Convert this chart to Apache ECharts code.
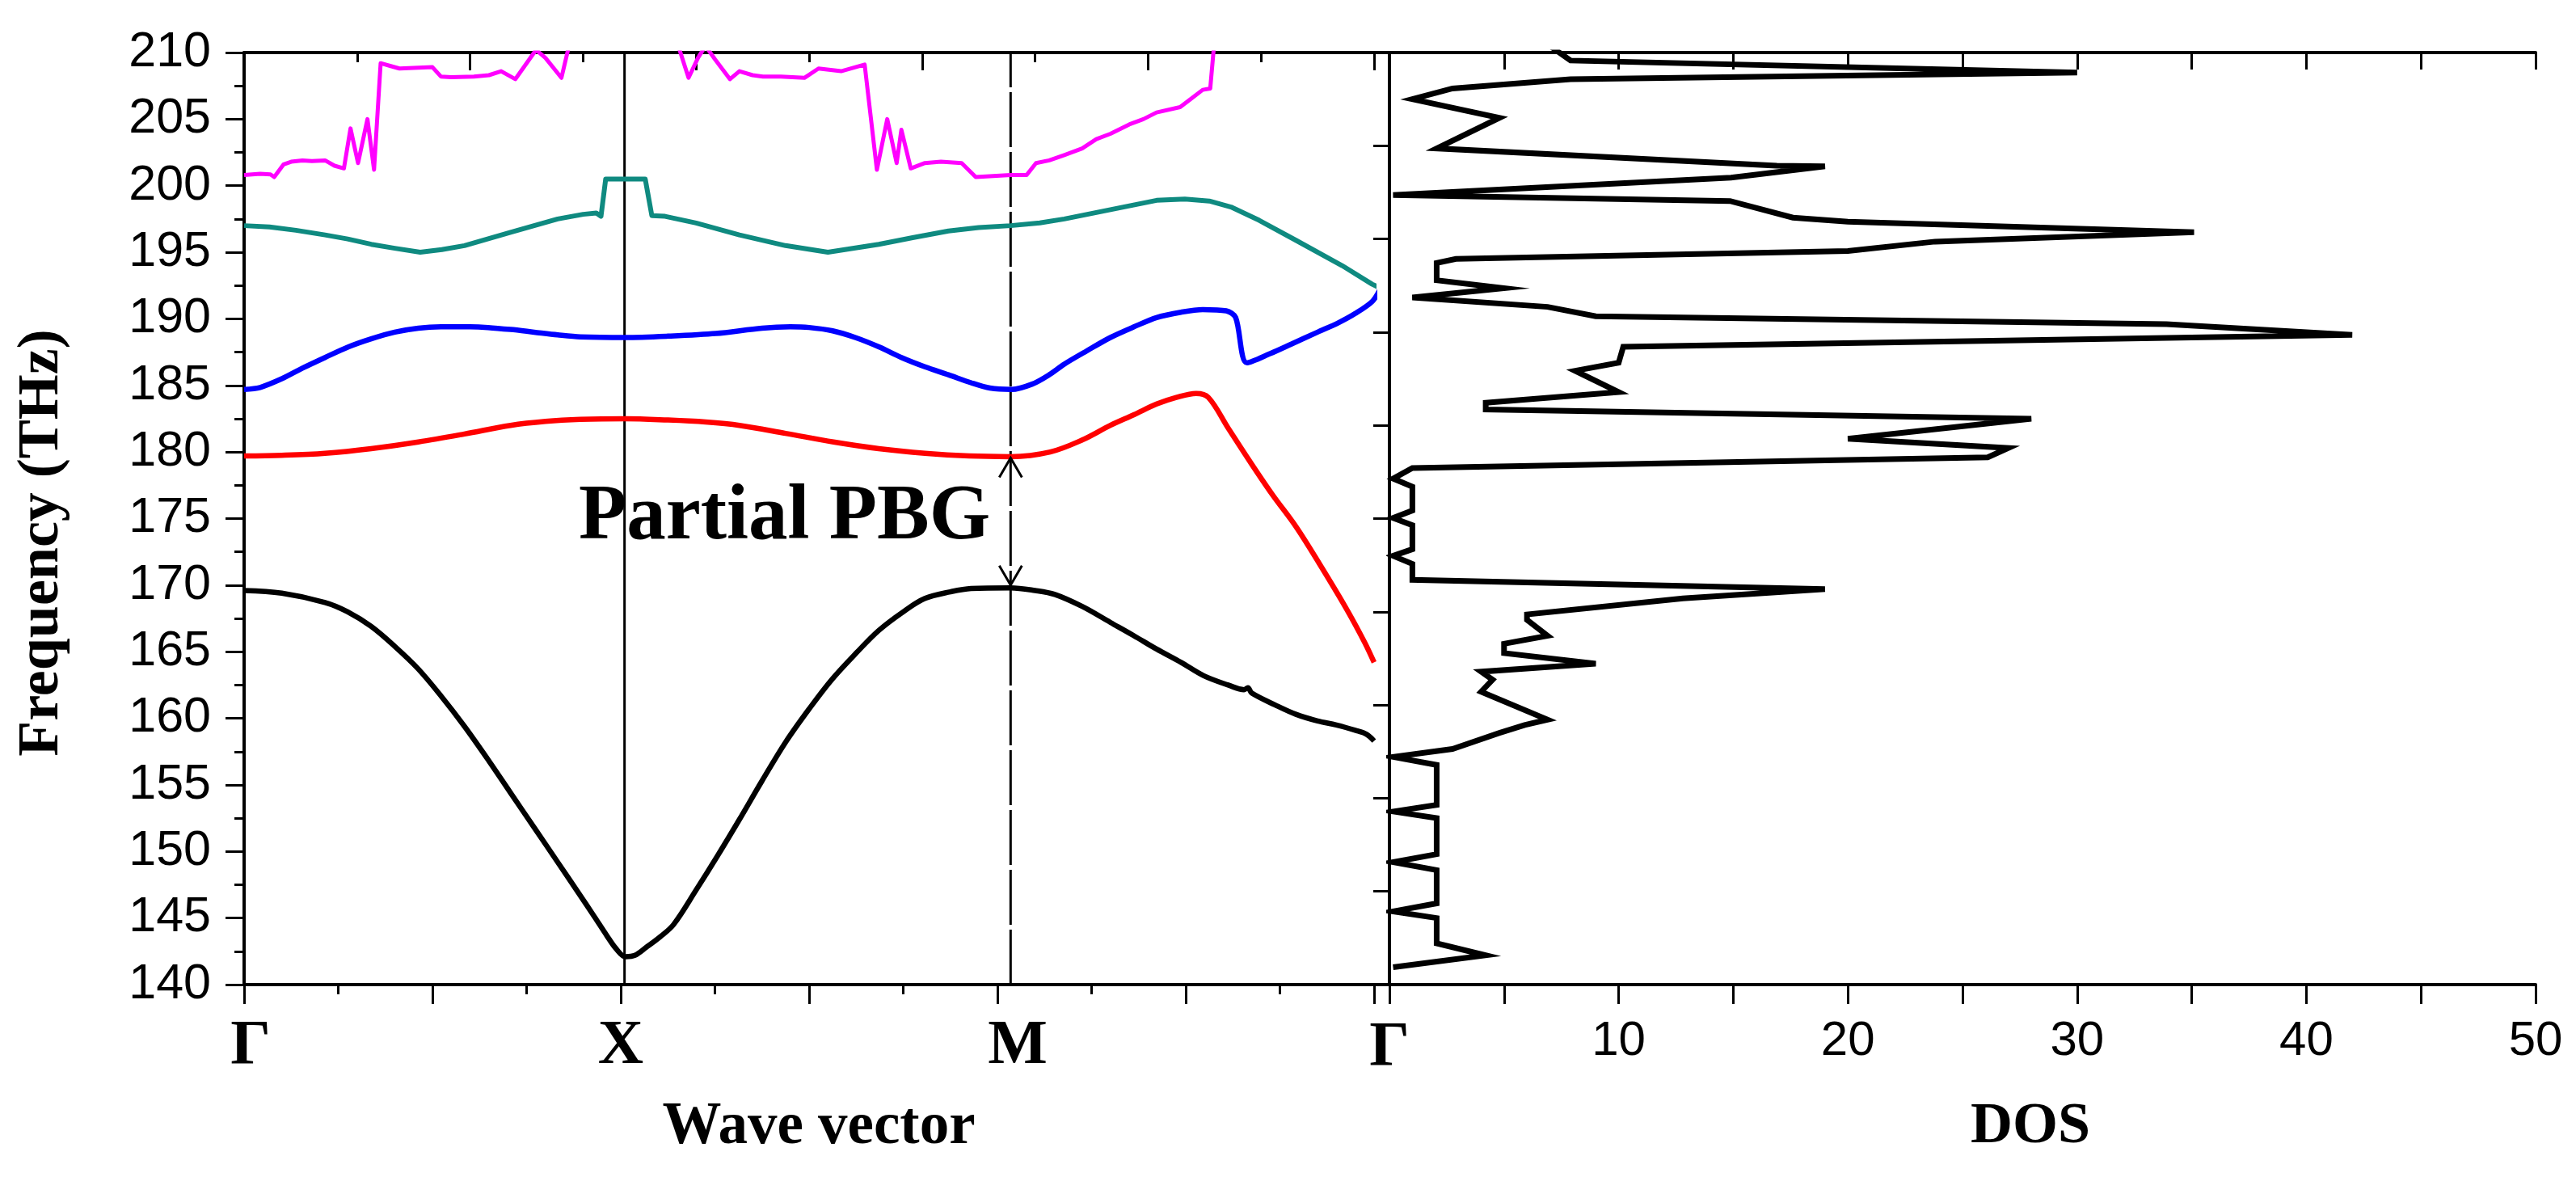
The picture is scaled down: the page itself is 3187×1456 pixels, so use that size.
<!DOCTYPE html>
<html><head><meta charset="utf-8">
<script src="https://cdn.jsdelivr.net/npm/echarts@6/dist/echarts.min.js"></script>
<style>html,body{margin:0;padding:0;background:#fff}#c{width:3187px;height:1456px}</style>
</head><body><div id="c"></div>
<script>
// ---------- data ----------
const kPointLabels = {0: 'Γ', 4: 'X', 8: 'M'};
const symX = 4.04;          // X point line
const symM = 8.14;          // M point line (dashed)
const freqMin = 140, freqMax = 210;
const dosTickLabels = {0: 'Γ', 10: '10', 20: '20', 30: '30', 40: '40', 50: '50'};

const band1 = [[0,169.6],[0.4,169.4],[0.86,168.7],[1.1,168.0],[1.35,166.9],[1.6,165.4],[1.85,163.7],[2.1,161.6],[2.34,159.4],[2.6,156.8],[2.83,154.4],[3.08,151.8],[3.33,149.2],[3.55,146.9],[3.72,145.1],[3.85,143.7],[3.95,142.7],[4.05,142.1],[4.15,142.2],[4.27,142.8],[4.42,143.6],[4.56,144.5],[4.8,147.1],[5.03,149.7],[5.26,152.4],[5.5,155.3],[5.75,158.2],[6.0,160.7],[6.24,162.9],[6.5,164.9],[6.74,166.6],[7.0,168.0],[7.23,169.0],[7.5,169.5],[7.72,169.75],[8.14,169.8],[8.4,169.6],[8.61,169.3],[8.9,168.4],[9.2,167.2],[9.45,166.2],[9.69,165.2],[9.95,164.2],[10.19,163.2],[10.45,162.5],[10.62,162.15],[10.66,162.3],[10.7,161.9],[10.95,161.0],[11.17,160.3],[11.4,159.8],[11.6,159.5],[11.8,159.1],[11.92,158.8],[12.0,158.3]];

const band2 = [[0,179.7],[0.4,179.75],[0.86,179.9],[1.35,180.25],[1.85,180.75],[2.34,181.35],[2.83,182.0],[3.2,182.3],[3.57,182.45],[4.05,182.5],[4.5,182.4],[4.9,182.25],[5.26,182.0],[5.75,181.4],[6.26,180.75],[6.74,180.25],[7.23,179.9],[7.7,179.7],[8.14,179.65],[8.56,180.0],[8.9,180.9],[9.2,182.0],[9.45,182.8],[9.69,183.6],[9.9,184.1],[10.11,184.4],[10.24,184.1],[10.45,181.8],[10.68,179.3],[10.92,176.8],[11.17,174.4],[11.42,171.6],[11.7,168.3],[11.9,165.7],[12.0,164.2]];

const band3 = [[0,184.7],[0.17,184.85],[0.4,185.5],[0.62,186.3],[0.86,187.1],[1.11,187.9],[1.35,188.5],[1.6,189.0],[1.85,189.3],[2.09,189.4],[2.4,189.4],[2.59,189.35],[2.83,189.2],[3.08,189.0],[3.33,188.8],[3.57,188.65],[4.05,188.6],[4.5,188.7],[5.01,188.9],[5.5,189.3],[5.8,189.4],[6.0,189.35],[6.25,189.1],[6.49,188.6],[6.74,187.9],[6.98,187.1],[7.23,186.4],[7.48,185.8],[7.72,185.2],[7.92,184.8],[8.15,184.7],[8.37,185.1],[8.55,185.8],[8.71,186.6],[8.95,187.6],[9.2,188.6],[9.45,189.4],[9.69,190.1],[9.95,190.5],[10.18,190.7],[10.43,190.6],[10.53,190.1],[10.65,186.7],[10.9,187.4],[11.12,188.1],[11.4,189.0],[11.62,189.7],[11.8,190.4],[11.98,191.3],[12.07,192.3]];

const band4 = [[0,197.0],[0.27,196.9],[0.55,196.65],[0.86,196.3],[1.1,196.0],[1.35,195.6],[1.6,195.3],[1.87,195.0],[2.1,195.2],[2.34,195.5],[2.83,196.5],[3.33,197.5],[3.6,197.85],[3.74,197.95],[3.79,197.7],[3.84,200.5],[4.26,200.5],[4.33,197.75],[4.47,197.7],[4.8,197.2],[5.26,196.3],[5.75,195.5],[6.2,195.0],[6.74,195.6],[7.1,196.1],[7.48,196.6],[7.8,196.85],[8.14,197.0],[8.45,197.2],[8.71,197.5],[9.2,198.2],[9.69,198.9],[9.99,199.0],[10.25,198.85],[10.48,198.4],[10.78,197.4],[11.17,195.9],[11.66,194.0],[11.98,192.6],[12.07,192.3]];

const band5 = [[0,200.8],[0.17,200.9],[0.28,200.85],[0.32,200.65],[0.42,201.6],[0.5,201.8],[0.62,201.9],[0.72,201.85],[0.86,201.9],[0.96,201.5],[1.06,201.3],[1.13,204.3],[1.21,201.7],[1.31,205.0],[1.38,201.2],[1.45,209.2],[1.55,209.0],[1.65,208.8],[1.8,208.85],[2.0,208.9],[2.09,208.2],[2.2,208.15],[2.44,208.2],[2.6,208.3],[2.73,208.6],[2.88,208.0],[3.1,210.2],[3.2,209.6],[3.37,208.1],[3.45,210.5],[3.6,212],[4.5,212],[4.62,210.3],[4.72,208.1],[4.82,209.6],[4.9,210.5],[5.0,209.5],[5.16,208.0],[5.26,208.6],[5.4,208.3],[5.51,208.2],[5.7,208.2],[5.95,208.1],[6.1,208.8],[6.34,208.6],[6.59,209.1],[6.72,201.2],[6.83,205.0],[6.93,201.7],[6.98,204.2],[7.08,201.3],[7.23,201.7],[7.4,201.8],[7.62,201.7],[7.77,200.65],[8.14,200.8],[8.31,200.8],[8.41,201.7],[8.55,201.9],[8.71,202.3],[8.9,202.8],[9.05,203.5],[9.2,203.9],[9.4,204.6],[9.55,205.0],[9.69,205.5],[9.94,205.9],[10.05,206.5],[10.18,207.2],[10.26,207.3],[10.3,210.5],[10.4,213]];

// density of states: [DOS, frequency]
const dos = [[7.0,210.5],[7.9,209.4],[30,208.5],[7.9,208.0],[2.75,207.3],[1.0,206.5],[4.8,205.1],[2.06,202.8],[16.9,201.5],[19.0,201.45],[14.9,200.6],[0.16,199.3],[14.86,198.85],[17.6,197.6],[20.0,197.3],[35.1,196.5],[23.8,195.8],[20.0,195.1],[2.9,194.5],[2.06,194.2],[2.06,192.9],[5.0,192.3],[1.0,191.6],[6.9,190.9],[9.0,190.2],[33.9,189.6],[42.0,188.8],[10.2,187.9],[10.0,186.7],[8.1,186.1],[10.0,184.5],[4.2,183.7],[4.2,183.2],[28.0,182.5],[20.0,181.0],[27.0,180.3],[26.1,179.6],[1.0,178.8],[0.16,178.0],[1.0,177.4],[1.0,175.6],[0.16,175.05],[1.0,174.5],[1.0,172.7],[0.16,172.2],[1.0,171.6],[1.0,170.4],[19.0,169.7],[12.8,169.0],[6.0,167.8],[6.0,167.4],[6.9,166.2],[5.0,165.6],[5.0,164.9],[9.0,164.1],[4.0,163.5],[4.5,162.9],[4.0,162.0],[6.9,159.9],[5.9,159.5],[4.8,158.9],[2.75,157.7],[0.16,157.1],[2.06,156.5],[2.06,153.5],[0.16,153.0],[2.06,152.5],[2.06,149.8],[0.16,149.2],[2.06,148.6],[2.06,146.1],[0.16,145.5],[2.06,145.0],[2.06,143.1],[4.2,142.2],[0.16,141.3]];

const gapArrow = [[symM, 179.55, symM, 170.0]];
const gapLabel = 'Partial PBG';

// ---------- chart ----------
const chart = echarts.init(document.getElementById('c'));
const serif = '"Liberation Serif", "Times New Roman", serif';
const sans = '"Liberation Sans", Arial, sans-serif';
const axLine = {lineStyle: {color: '#000', width: 4}};

function bandSeries(data, color, width, smooth, clip) {
  return {type: 'line', xAxisIndex: 0, yAxisIndex: 0, data: data, showSymbol: false, symbol: 'none',
    smooth: smooth, clip: clip,
    lineStyle: {color: color, width: width, join: 'round'}, z: 3};
}

chart.setOption({
  animation: false,
  backgroundColor: '#fff',
  grid: [
    {left: 302, top: 65, width: 1398, height: 1153},
    {left: 1719, top: 65, width: 1418, height: 1153}
  ],
  xAxis: [
    {gridIndex: 0, type: 'value', position: 'bottom', min: 0, max: 12, interval: 2,
      axisLine: axLine,
      axisTick: {show: true, length: 24, lineStyle: {color: '#000', width: 3}},
      minorTick: {show: true, splitNumber: 2, length: 12, lineStyle: {color: '#000', width: 3}},
      splitLine: {show: false}, minorSplitLine: {show: false},
      axisLabel: {margin: 38, color: '#000', fontFamily: serif, fontWeight: 'bold', fontSize: 78,
        formatter: v => v === 0 ? '{g|Γ}' : (v === 8 ? '{m|M}' : (kPointLabels[v] || '')),
        rich: {g: {fontFamily: serif, fontWeight: 'bold', fontSize: 78, padding: [0, 0, 0, 16]},
               m: {fontFamily: serif, fontWeight: 'bold', fontSize: 78, padding: [0, 0, 0, 50]}}},
      name: 'Wave vector', nameLocation: 'middle', nameGap: 141,
      nameTextStyle: {fontFamily: serif, fontWeight: 'bold', fontSize: 73, color: '#000', padding: [0, 0, 0, 24]}},
    {gridIndex: 0, type: 'value', position: 'top', min: 0, max: 12, interval: 2.4,
      axisLine: axLine,
      axisTick: {show: true, inside: true, length: 22, lineStyle: {color: '#000', width: 3}},
      minorTick: {show: true, splitNumber: 2, length: 12, lineStyle: {color: '#000', width: 3}},
      splitLine: {show: false}, axisLabel: {show: false}},
    {gridIndex: 1, type: 'value', position: 'bottom', min: 0, max: 50, interval: 5,
      axisLine: axLine,
      axisTick: {show: true, length: 24, lineStyle: {color: '#000', width: 3}},
      splitLine: {show: false},
      axisLabel: {margin: 40, color: '#000', fontFamily: sans, fontSize: 60,
        formatter: v => v === 0 ? '{g|Γ}' : (dosTickLabels[v] || ''),
        rich: {g: {fontFamily: serif, fontWeight: 'bold', fontSize: 78}}},
      name: 'DOS', nameLocation: 'middle', nameGap: 140,
      nameTextStyle: {fontFamily: serif, fontWeight: 'bold', fontSize: 72, color: '#000', padding: [0, 0, 0, 168]}},
    {gridIndex: 1, type: 'value', position: 'top', min: 0, max: 50, interval: 5,
      axisLine: axLine,
      axisTick: {show: true, inside: true, length: 21, lineStyle: {color: '#000', width: 3}},
      splitLine: {show: false}, axisLabel: {show: false}}
  ],
  yAxis: [
    {gridIndex: 0, type: 'value', position: 'left', min: freqMin, max: freqMax, interval: 5,
      axisLine: axLine,
      axisTick: {show: true, length: 23, lineStyle: {color: '#000', width: 3}},
      minorTick: {show: true, splitNumber: 2, length: 12, lineStyle: {color: '#000', width: 3}},
      splitLine: {show: false}, minorSplitLine: {show: false},
      axisLabel: {margin: 41, color: '#000', fontFamily: sans, fontSize: 61},
      name: 'Frequency (THz)', nameLocation: 'middle', nameGap: 214, nameRotate: 90,
      nameTextStyle: {fontFamily: serif, fontWeight: 'bold', fontSize: 72, color: '#000', padding: [0, 60, 0, 0]}},
    {gridIndex: 1, type: 'value', position: 'left', min: freqMin, max: freqMax, interval: 7,
      axisLine: axLine,
      axisTick: {show: true, length: 9, lineStyle: {color: '#000', width: 3}},
      splitLine: {show: false}, axisLabel: {show: false}},
    {gridIndex: 1, type: 'value', position: 'right', min: freqMin, max: freqMax, interval: 7,
      axisLine: axLine,
      axisTick: {show: true, inside: true, length: 20, lineStyle: {color: '#000', width: 3}},
      splitLine: {show: false}, axisLabel: {show: false}}
  ],
  series: [
    {type: 'line', xAxisIndex: 0, yAxisIndex: 0, symbol: 'none', z: 1,
      data: [[symX, freqMin], [symX, freqMax]], lineStyle: {color: '#000', width: 3}},
    {type: 'line', xAxisIndex: 0, yAxisIndex: 0, symbol: 'none', z: 1,
      data: [[symM, freqMin], [symM, freqMax]], lineStyle: {color: '#000', width: 3, type: [68, 6]}},
    bandSeries(band5, '#ff00ff', 5, false, true),
    bandSeries(band4, '#0f8a80', 6, false, false),
    bandSeries(band3, '#0000ff', 6.5, 0.3, false),
    bandSeries(band2, '#ff0000', 6.5, 0.35, true),
    bandSeries(band1, '#000000', 6.5, 0.35, true),
    {type: 'line', xAxisIndex: 2, yAxisIndex: 1, data: dos, symbol: 'none', clip: true,
      lineStyle: {color: '#000', width: 7, join: 'miter'}, z: 3},
    {type: 'custom', xAxisIndex: 0, yAxisIndex: 0, data: gapArrow, z: 4,
      renderItem: function (params, api) {
        const a = api.coord([api.value(0), api.value(1)]);
        const b = api.coord([api.value(2), api.value(3)]);
        const dir = b[1] > a[1] ? 1 : -1;
        const st = {stroke: '#000', lineWidth: 3, fill: null};
        return {type: 'group', children: [
          {type: 'polyline', shape: {points: [[a[0] - 14, a[1] + dir * 24], [a[0], a[1]], [a[0] + 14, a[1] + dir * 24]]}, style: st},
          {type: 'polyline', shape: {points: [[b[0] - 14, b[1] - dir * 24], [b[0], b[1]], [b[0] + 14, b[1] - dir * 24]]}, style: st}
        ]};
      }}
  ],
  graphic: [
    {type: 'text', x: 716, y: 641, z: 10,
      style: {text: gapLabel, font: 'bold 97px ' + serif, fill: '#000', verticalAlign: 'middle', align: 'left'}},
    {type: 'line', z: 10, shape: {x1: 1700, y1: 65, x2: 1719, y2: 65}, style: {stroke: '#000', lineWidth: 4}},
    {type: 'line', z: 10, shape: {x1: 1700, y1: 1218, x2: 1719, y2: 1218}, style: {stroke: '#000', lineWidth: 4}}
  ]
});
</script>
</body></html>
